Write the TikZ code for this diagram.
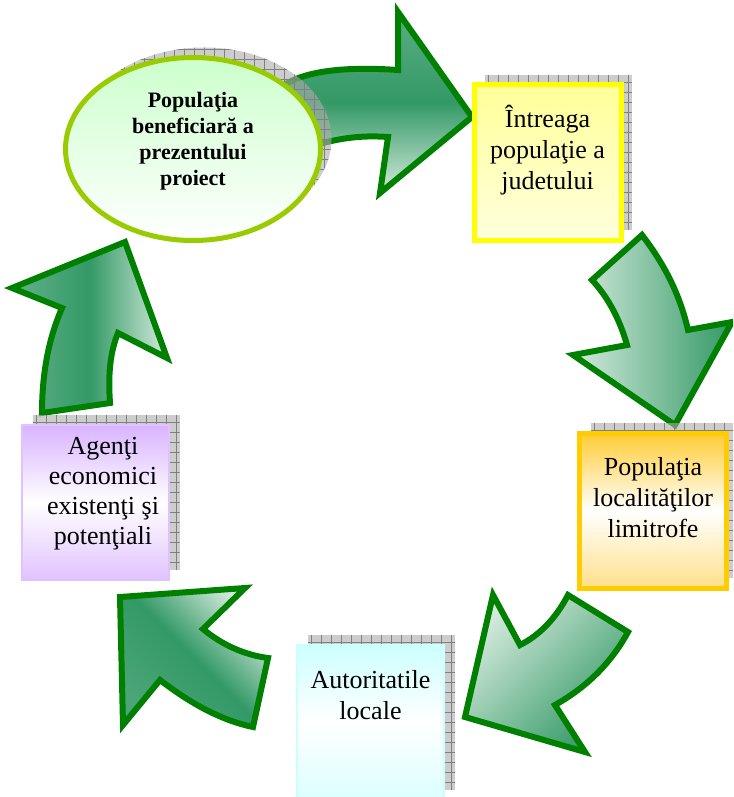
\documentclass[tikz,border=0pt]{standalone}
\usepackage{fontspec}
\setmainfont{Liberation Serif}
\usetikzlibrary{positioning,shapes.geometric,shadows}

\definecolor{arrowgreen}{HTML}{008000}
\definecolor{arrowdark}{HTML}{339966}
\definecolor{arrowlight}{HTML}{D4EADC}
\definecolor{ellborder}{HTML}{99CC00}
\definecolor{elltop}{HTML}{CCFFCC}
\definecolor{yellowline}{HTML}{FFFF00}
\definecolor{yellowtop}{HTML}{FFFF99}
\definecolor{yellowbot}{HTML}{FFFFDD}
\definecolor{orangeline}{HTML}{FFCC00}
\definecolor{orangetop}{HTML}{FFCC33}
\definecolor{orangebot}{HTML}{FFE08A}
\definecolor{cyantop}{HTML}{CCFFFF}
\definecolor{purpletop}{HTML}{D9B3FF}

\begin{document}
\begin{tikzpicture}[x=1pt, y=-1pt,
    blockarrow/.style={draw=arrowgreen, line width=6pt, line join=miter},
    gridshadow/.style={general shadow={shadow xshift=11pt, shadow yshift=10pt,
        fill=black!32, fill opacity=0.6,
        path picture={\draw[black!50, line width=0.6pt, step=10pt]
          (path picture bounding box.south west) grid (path picture bounding box.north east);}}},
    stagebox/.style={rectangle, minimum width=147pt, minimum height=155pt, line width=5pt, gridshadow},
    stagetext/.style={align=center, font=\fontsize{26}{31}\selectfont, inner sep=0pt}]

    \path[use as bounding box] (0,0) rectangle (733,797);
    \clip (0,0) rectangle (733,797);
    \fill[white] (0,0) rectangle (733,797);

    % arrows
    \draw[blockarrow, top color=arrowdark!75!arrowlight, bottom color=arrowlight, middle color=arrowdark]
      (280,88) .. controls (300,72) and (340,66) .. (398,70) -- (398,12) -- (472,117) -- (380,193)
      -- (388,137) .. controls (360,135) and (335,138) .. (300,150) -- cycle;
    \draw[blockarrow, left color=arrowlight, right color=arrowdark]
      (592,280) -- (642,235) .. controls (665,265) and (680,295) .. (688,330) -- (732,322) -- (675,425)
      -- (573,355) -- (627,345) .. controls (620,320) and (608,297) .. (592,280) -- cycle;
    \draw[blockarrow, top color=arrowlight, bottom color=arrowdark, shading angle=45]
      (568,595) -- (628,632) .. controls (610,665) and (585,688) .. (555,705) -- (585,752) -- (465,717)
      -- (493,595) -- (520,645) .. controls (540,635) and (556,618) .. (568,595) -- cycle;
    \draw[blockarrow, top color=arrowlight, bottom color=arrowdark!85!arrowlight, middle color=arrowdark, shading angle=-45]
      (268,658) -- (253,727) .. controls (220,720) and (190,703) .. (160,680) -- (123,725) -- (120,597)
      -- (245,588) -- (203,629) .. controls (222,645) and (245,655) .. (268,658) -- cycle;
    \draw[blockarrow, left color=arrowdark!70!arrowlight, right color=arrowlight, middle color=arrowdark]
      (42,413) -- (110,403) .. controls (108,375) and (110,352) .. (118,333) -- (167,358) -- (125,242)
      -- (12,288) -- (62,308) .. controls (48,340) and (42,375) .. (42,413) -- cycle;

    % stages
    \node[ellipse, minimum width=255pt, minimum height=183pt, inner sep=0pt, draw=ellborder,
      line width=5pt, top color=elltop, bottom color=white, gridshadow] (benef) at (193,149) {};
    \node[stagebox, draw=yellowline, top color=yellowtop, bottom color=yellowbot] (judet) at (547.5,162.5) {};
    \node[stagebox, draw=orangeline, top color=orangetop, bottom color=orangebot, middle color=white]
      (limitrofe) at (653,510.5) {};
    \node[stagebox, line width=2pt, draw=cyantop, top color=cyantop, bottom color=cyantop!70!white,
      middle color=white] (autoritati) at (370.5,722) {};
    \node[stagebox, line width=2pt, draw=purpletop!80!white, top color=purpletop,
      bottom color=purpletop!80!white, middle color=white] (agenti) at (95,502.5) {};

    \node[stagetext, font=\fontsize{22}{26}\selectfont\bfseries] (benefText) at ([yshift=8pt]benef.center)
      {Populaţia\\beneficiară a\\prezentului\\proiect};
    \node[stagetext] (judetText) at ([yshift=12pt]judet.center) {Întreaga\\populaţie a\\judetului};
    \node[stagetext] (limitrofeText) at ([yshift=13pt]limitrofe.center) {Populaţia\\localităţilor\\limitrofe};
    \node[stagetext] (autoritatiText) at ([yshift=27pt]autoritati.center) {Autoritatile\\locale};
    \node[stagetext, font=\fontsize{26}{30}\selectfont] (agentiText) at ([xshift=8pt, yshift=9pt]agenti.center)
      {Agenţi\\economici\\existenţi şi\\potenţiali};

\end{tikzpicture}
\end{document}
